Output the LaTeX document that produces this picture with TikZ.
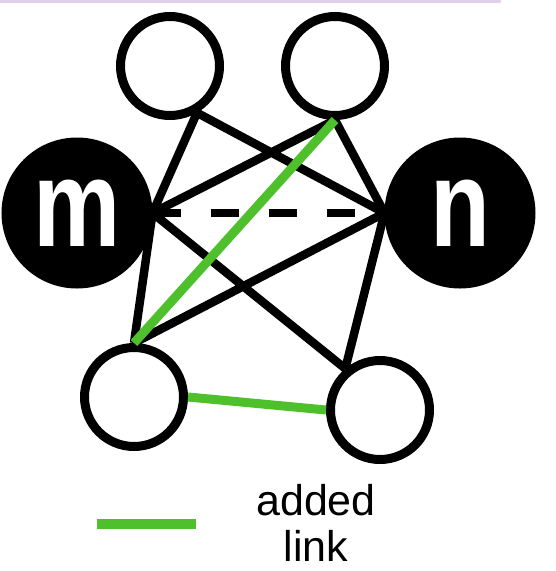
\documentclass[tikz,border=0pt]{standalone}
\usepackage{fontspec}
\setmainfont{Liberation Sans}
\usetikzlibrary{positioning}

\definecolor{linkgreen}{RGB}{77,192,44}
\definecolor{framepurple}{RGB}{226,208,234}

\begin{document}
\begin{tikzpicture}[x=1pt, y=-1pt, line width=9pt,
    small_node/.style ={circle, draw=black, fill=white, minimum size=99pt, inner sep=0pt},
    big_node/.style ={circle, draw=black, fill=black, text=white, minimum size=142pt, inner sep=0pt,
      font=\bfseries\fontsize{98}{98}\selectfont},
    old_link/.style ={draw=black, line width=8.5pt},
    added_link/.style ={draw=linkgreen, line width=9pt}]
    \useasboundingbox (0,0) rectangle (556,571);
    \draw[framepurple, line width=3pt, line cap=round] (0,1) -- (500,1);
    % nodes
    \node[small_node] (top_left) at (170,66) {};
    \node[small_node] (top_right) at (335,66) {};
    \node[big_node] (m) at (77,213) {\raisebox{-11pt}{\scalebox{1}[1.26]{m}}};
    \node[big_node] (n) at (460,213) {\raisebox{-11pt}{\scalebox{1}[1.26]{n}}};
    \node[small_node] (bottom_left) at (134,397) {};
    \node[small_node] (bottom_right) at (380,410) {};
    % existing links
    \draw[old_link] (top_left.-60) -- (m.east)
          (top_left.-60) -- (n.west)
          (top_right.south) -- (m.east)
          (top_right.south) -- (n.west)
          (bottom_left.north) -- (m.east)
          (bottom_left.north) -- (n.west)
          (bottom_right.130) -- (m.east)
          (bottom_right.130) -- (n.west);
    \draw[old_link, dash pattern=on 28pt off 30pt] (m.east) -- (n.west);
    % added links
    \draw[added_link] (top_right.south) -- (bottom_left.north)
          (bottom_left.east) -- (bottom_right.west);
    % legend
    \coordinate (legend_start) at (97,524);
    \coordinate (legend_end) at (196,524);
    \draw[added_link, line width=10pt] (legend_start) -- (legend_end);
    \node[align=center, font=\fontsize{43}{46}\selectfont] (legend_text) at (316,523) {added\\link};
\end{tikzpicture}
\end{document}
